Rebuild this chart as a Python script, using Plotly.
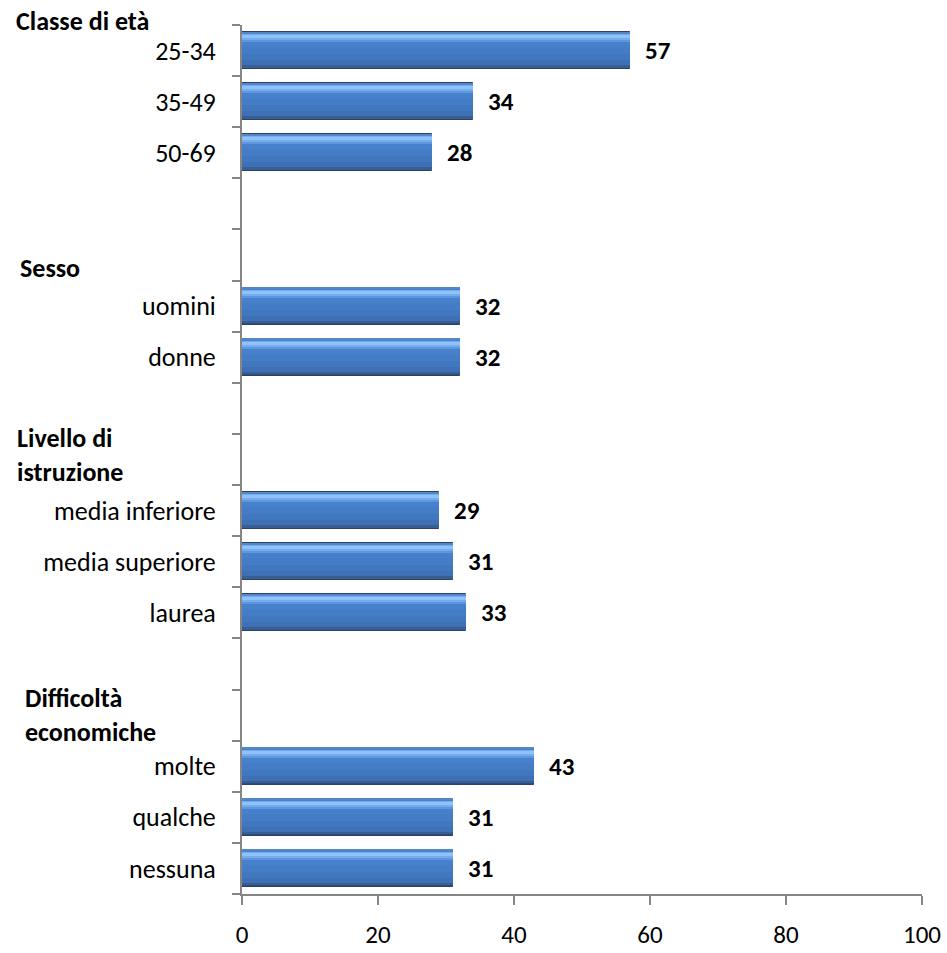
import plotly.graph_objects as go

# Rows of the chart, top to bottom (ids, visible labels, values; None = no bar)
row_ids = ["25-34", "35-49", "50-69", "sp1", "h_sesso", "uomini", "donne", "sp2",
           "h_istr", "media inferiore", "media superiore", "laurea", "sp3",
           "h_diff", "molte", "qualche", "nessuna"]
row_labels = ["25-34", "35-49", "50-69", "", "", "uomini", "donne", "",
              "", "media inferiore", "media superiore", "laurea", "",
              "", "molte", "qualche", "nessuna"]
values = [57, 34, 28, None, None, 32, 32, None,
          None, 29, 31, 33, None,
          None, 43, 31, 31]

# Group headings: (text, left px, centre px)
group_titles = ["Classe di età", "Sesso", "Livello di<br>istruzione", "Difficoltà<br>economiche"]
group_title_pos = [(14, 21), (18, 268), (15, 455), (23, 715)]

x_ticks = [0, 20, 40, 60, 80, 100]

FONT = "Calibri, Carlito, Lato, sans-serif"
W, H = 947, 953
ML, MR, MT, MB = 242, 25, 25, 59

bar_rows = [r for r, v in zip(row_ids, values) if v is not None]
bar_vals = [v for v in values if v is not None]

fig = go.Figure()

# Bevelled bar look: stacked bands of the same bar (offset/width in row units)
PX = 1 / 51.1
THICK = 37 * PX
TOP = -THICK / 2
bands = [
    (0, 37, "#2D4C7A"),
    (1, 33, "#3D70B4"),
    (1, 27, "#4077BE"),
    (1, 21, "#447CC5"),
    (1, 14, "#4881CB"),
    (2, 8, "#5E97E0"),
    (2, 6, "#74ACEE"),
    (3, 3, "#8EC2F8"),
    (0, 1.5, "#5586C8"),
    (33, 2.5, "#3A5E92"),
]
for i, (top_px, h_px, col) in enumerate(bands):
    fig.add_trace(go.Bar(
        x=bar_vals, y=bar_rows, orientation="h",
        offset=TOP + top_px * PX, width=h_px * PX,
        marker=dict(color=col,
                    line=dict(width=1 if i == 0 else 0, color="#27436C")),
        showlegend=False, hoverinfo="skip",
    ))

# Value labels beside each bar
for r, v in zip(bar_rows, bar_vals):
    fig.add_annotation(x=v, y=r, xref="x", yref="y", text=f"<b>{v}</b>",
                       showarrow=False, xanchor="left", yanchor="middle",
                       xshift=13, font=dict(family=FONT, size=25, color="#000000"))

plot_h = H - MT - MB
plot_w = W - ML - MR
for txt, (px, py) in zip(group_titles, group_title_pos):
    fig.add_annotation(x=-(ML - px) / plot_w, y=1 - (py - MT) / plot_h,
                       xref="paper", yref="paper", text=f"<b>{txt}</b>",
                       showarrow=False, xanchor="left", yanchor="middle", align="left",
                       font=dict(family=FONT, size=26, color="#000000"))

fig.update_layout(
    width=W, height=H,
    margin=dict(l=ML, r=MR, t=MT, b=MB, pad=0, autoexpand=False),
    paper_bgcolor="white", plot_bgcolor="white",
    barmode="overlay", bargap=0,
    showlegend=False,
    font=dict(family=FONT, size=26, color="#000000"),
)
fig.update_yaxes(
    type="category", categoryorder="array", categoryarray=row_ids,
    tickmode="array", tickvals=row_ids, ticktext=row_labels,
    autorange=False, range=[len(row_ids) - 0.5, -0.5],
    tickson="boundaries", ticks="outside", ticklen=8, tickwidth=1.5, tickcolor="#868686",
    showline=True, linecolor="#868686", linewidth=2,
    showgrid=False, zeroline=False, ticklabelstandoff=19, automargin=False,
    tickfont=dict(family=FONT, size=26, color="#000000"),
)
fig.update_xaxes(
    range=[0, 100], tickmode="array", tickvals=x_ticks,
    ticks="outside", ticklen=9, tickwidth=1.5, tickcolor="#868686",
    showline=True, linecolor="#868686", linewidth=2,
    showgrid=False, zeroline=False, ticklabelstandoff=8, automargin=False,
    tickfont=dict(family=FONT, size=25, color="#000000"),
)

fig.write_html("out.html")
